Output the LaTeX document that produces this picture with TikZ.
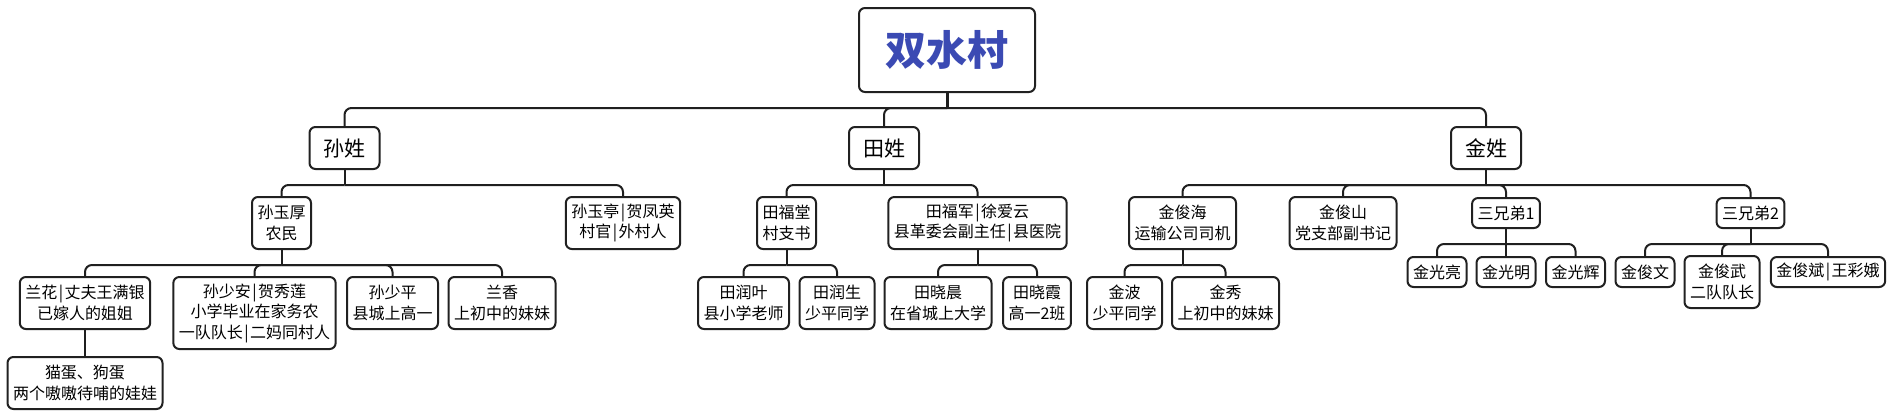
\documentclass[tikz,border=0pt]{standalone}
\usepackage{fontspec}
\setmainfont{Noto Sans CJK SC}
\definecolor{rootblue}{HTML}{3B4AB3}
\newcommand{\vbar}{\hspace{1.5pt}|\hspace{1.5pt}}

\begin{document}
\begin{tikzpicture}[x=1pt,y=-1pt,
    box/.style={draw=black!87,line width=2pt,rounded corners=6pt,fill=white,align=center,
      inner xsep=5.5pt,inner ysep=0pt,font=\fontsize{16}{20.5}\selectfont},
    one/.style={box,minimum height=30pt},
    two/.style={box,minimum height=52pt},
    three/.style={box,minimum height=72pt},
    famname/.style={box,minimum width=70pt,minimum height=42pt,font=\fontsize{21}{24}\selectfont},
    rootbox/.style={box,minimum width=176pt,minimum height=84pt,
      font=\fontsize{41}{48}\selectfont\bfseries,text=rootblue},
    link/.style={line width=2pt,draw=black!88,rounded corners=7pt}]
  \useasboundingbox (0,0) rectangle (1896,416);

  \node[rootbox] (root) at (947,50) {双水村};

  \node[famname] (sun) at (344.5,148) {孙姓};
  \node[famname] (tian) at (884,148) {田姓};
  \node[famname] (jin) at (1486,148) {金姓};

  \node[two] (yuhou) at (281.5,223) {孙玉厚\\农民};
  \node[two] (yuting) at (623,223) {孙玉亭\vbar 贺凤英\\村官\vbar 外村人};
  \node[two] (futang) at (786.5,223) {田福堂\\村支书};
  \node[two] (fujun) at (977.5,223) {田福军\vbar 徐爱云\\县革委会副主任\vbar 县医院};
  \node[two] (junhai) at (1182.5,223) {金俊海\\运输公司司机};
  \node[two] (junshan) at (1343,223) {金俊山\\党支部副书记};
  \node[one] (xdi1) at (1506,213) {三兄弟1};
  \node[one] (xdi2) at (1750.5,213) {三兄弟2};

  \node[two] (lanhua) at (85,303) {兰花\vbar 丈夫王满银\\已嫁人的姐姐};
  \node[three] (shaoan) at (254.5,313) {孙少安\vbar 贺秀莲\\小学毕业在家务农\\一队队长\vbar 二妈同村人};
  \node[two] (shaoping) at (392.5,303) {孙少平\\县城上高一};
  \node[two] (lanxiang) at (502,303) {兰香\\上初中的妹妹};
  \node[two] (runye) at (743.5,303) {田润叶\\县小学老师};
  \node[two] (runsheng) at (837,303) {田润生\\少平同学};
  \node[two] (xiaochen) at (938,303) {田晓晨\\在省城上大学};
  \node[two] (xiaoxia) at (1037,303) {田晓霞\\高一2班};
  \node[two] (jinbo) at (1124.5,303) {金波\\少平同学};
  \node[two] (jinxiu) at (1225.5,303) {金秀\\上初中的妹妹};
  \node[one] (guangliang) at (1437,272) {金光亮};
  \node[one] (guangming) at (1506,272) {金光明};
  \node[one] (guanghui) at (1575.5,272) {金光辉};
  \node[one] (junwen) at (1645,272) {金俊文};
  \node[two] (junwu) at (1722,282) {金俊武\\二队队长};
  \node[one] (junbin) at (1828,272) {金俊斌\vbar 王彩娥};

  \node[two] (wawa) at (85,383) {猫蛋、狗蛋\\两个嗷嗷待哺的娃娃};

  % stems under each parent
  \draw[link,line width=3pt] (root.south) -- ++(0,15);
  \foreach \p in {sun,tian,jin,yuhou,futang,fujun,junhai,xdi1,xdi2}
    \draw[link] (\p.south) -- ++(0,15);

  % bus to each child
  \foreach \from/\to in {root/sun,root/tian,root/jin,sun/yuhou,sun/yuting,tian/futang,tian/fujun,
      jin/junhai,jin/junshan,jin/xdi1,jin/xdi2,yuhou/lanhua,yuhou/shaoan,yuhou/shaoping,yuhou/lanxiang,
      futang/runye,futang/runsheng,fujun/xiaochen,fujun/xiaoxia,junhai/jinbo,junhai/jinxiu,
      xdi1/guangliang,xdi1/guangming,xdi1/guanghui,xdi2/junwen,xdi2/junwu,xdi2/junbin}
    \draw[link] (\from.south) ++(0,15) -| (\to.north);

  \draw[link] (lanhua) -- (wawa);
\end{tikzpicture}
\end{document}
